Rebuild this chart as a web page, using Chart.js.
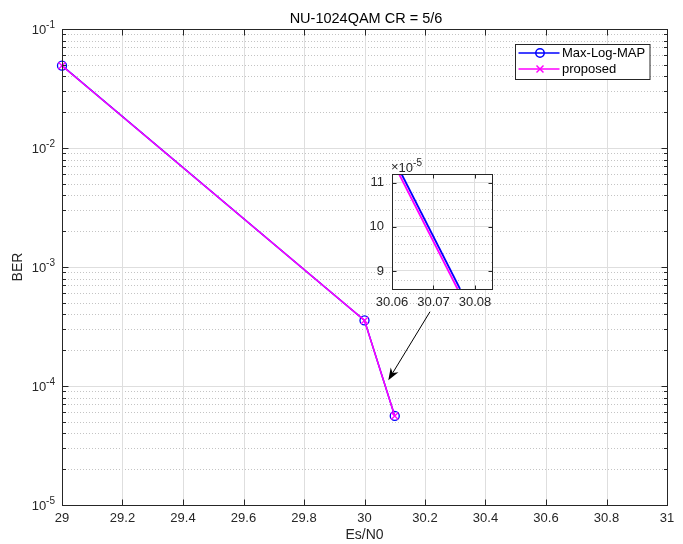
<!DOCTYPE html>
<html>
<head>
<meta charset="utf-8">
<script src="https://cdn.jsdelivr.net/npm/chart.js@4.4.0/dist/chart.umd.min.js"></script>
<style>
  html, body { margin: 0; padding: 0; background: #fff; }
  #wrap { position: relative; width: 683px; height: 544px; }
  #main { position: absolute; left: 0; top: 0; }
  #inset { position: absolute; left: 340px; top: 150px; }
</style>
</head>
<body>
<div id="wrap">
  <canvas id="main" width="683" height="544"></canvas>
  <canvas id="inset" width="180" height="170"></canvas>
</div>
<script>
// main curves
const esn0 = [29, 30, 30.1];
const berMaxLog = [0.0492, 3.56e-4, 5.6e-5];
const berProposed = [0.0491, 3.55e-4, 5.6e-5];
const xTicks = [29, 29.2, 29.4, 29.6, 29.8, 30, 30.2, 30.4, 30.6, 30.8, 31];
const yDecades = [1e-5, 1e-4, 1e-3, 1e-2, 1e-1];
const yExponents = ["-5", "-4", "-3", "-2", "-1"];

// zoomed inset (BER in units of 1e-5)
const zoomEsN0MaxLog = [30.0623, 30.0764];
const zoomBerMaxLog = [11.2, 8.59];
const zoomEsN0Proposed = [30.0617, 30.0758];
const zoomBerProposed = [11.2, 8.59];
const zoomXTicks = [30.06, 30.07, 30.08];
const zoomYTicks = [9, 10, 11];
const zoomYMinor = [8.6, 8.8, 9.2, 9.4, 9.6, 9.8, 10.2, 10.4, 10.6, 10.8, 11.2];

// annotation arrow (data coords of main axes)
const arrowFrom = [30.2165, 4.21e-4];
const arrowTo = [30.0787, 1.12e-4];

const FONT = "'Liberation Sans', Arial, Helvetica, sans-serif";
const INK = "#262626";
const BLUE = "#0000ff";
const MAGENTA = "#ff00ff";

Chart.defaults.font.family = FONT;
Chart.defaults.color = INK;

const seg = (ctx, x1, y1, x2, y2) => {
  ctx.beginPath();
  ctx.moveTo(x1, y1);
  ctx.lineTo(x2, y2);
  ctx.stroke();
};
const crisp = (v) => Math.round(v) + 0.5;

// "10" with raised exponent, left edge at xl
const powText = (ctx, base, exp, xl, yc, big, small) => {
  ctx.textAlign = "left";
  ctx.textBaseline = "middle";
  ctx.font = big + "px " + FONT;
  const wb = ctx.measureText(base).width;
  ctx.fillText(base, xl, yc);
  ctx.font = small + "px " + FONT;
  ctx.fillText(exp, xl + wb, yc - 5);
};
const powWidth = (ctx, base, exp, big, small) => {
  ctx.font = big + "px " + FONT;
  const wb = ctx.measureText(base).width;
  ctx.font = small + "px " + FONT;
  return wb + ctx.measureText(exp).width;
};

const mainPlugin = {
  id: "matlabMain",
  beforeDatasetsDraw(chart) {
    const { ctx, chartArea: a, scales: { x, y } } = chart;
    ctx.save();
    ctx.lineWidth = 1;
    // minor grid (dotted)
    ctx.strokeStyle = "#c4c4c4";
    ctx.setLineDash([1, 2]);
    yDecades.forEach((d, i) => {
      if (i === yDecades.length - 1) return;
      for (let k = 2; k <= 9; k++) {
        const py = crisp(y.getPixelForValue(d * k));
        seg(ctx, a.left, py, a.right, py);
      }
    });
    ctx.setLineDash([]);
    // major grid
    ctx.strokeStyle = "#dedede";
    xTicks.forEach((v) => {
      const px = crisp(x.getPixelForValue(v));
      seg(ctx, px, a.top, px, a.bottom);
    });
    yDecades.forEach((d) => {
      const py = crisp(y.getPixelForValue(d));
      seg(ctx, a.left, py, a.right, py);
    });
    ctx.restore();
  },
  afterDatasetsDraw(chart) {
    const { ctx, chartArea: a, scales: { x, y } } = chart;
    ctx.save();
    ctx.strokeStyle = INK;
    ctx.fillStyle = INK;
    ctx.lineWidth = 1;
    const L = crisp(a.left), R = crisp(a.right), T = crisp(a.top), B = crisp(a.bottom);
    // box
    ctx.strokeRect(L, T, R - L, B - T);
    // x ticks bottom/top
    xTicks.forEach((v) => {
      const px = crisp(x.getPixelForValue(v));
      seg(ctx, px, B, px, B - 6);
      seg(ctx, px, T, px, T + 6);
    });
    // y ticks major + minor, left/right
    yDecades.forEach((d, i) => {
      const py = crisp(y.getPixelForValue(d));
      seg(ctx, L, py, L + 6, py);
      seg(ctx, R, py, R - 6, py);
      if (i < yDecades.length - 1) {
        for (let k = 2; k <= 9; k++) {
          const pm = crisp(y.getPixelForValue(d * k));
          seg(ctx, L, pm, L + 3.5, pm);
          seg(ctx, R, pm, R - 3.5, pm);
        }
      }
    });
    // y tick labels 10^n
    yDecades.forEach((d, i) => {
      const py = y.getPixelForValue(d);
      const w = powWidth(ctx, "10", yExponents[i], 13, 10);
      powText(ctx, "10", yExponents[i], a.left - 7 - w, py + 1, 13, 10);
    });

    // arrow
    const tx = x.getPixelForValue(arrowTo[0]), ty = y.getPixelForValue(arrowTo[1]);
    const fx = x.getPixelForValue(arrowFrom[0]), fy = y.getPixelForValue(arrowFrom[1]);
    const len = Math.hypot(tx - fx, ty - fy);
    const ux = (tx - fx) / len, uy = (ty - fy) / len;
    const nx = -uy, ny = ux;
    const HL = 12, HW = 4.5;
    const bx = tx - ux * HL, by = ty - uy * HL;
    const mx = tx - ux * HL * 0.7, my = ty - uy * HL * 0.7;
    ctx.strokeStyle = "#000";
    ctx.fillStyle = "#000";
    ctx.lineWidth = 1;
    seg(ctx, fx, fy, mx, my);
    ctx.beginPath();
    ctx.moveTo(tx, ty);
    ctx.lineTo(bx + nx * HW, by + ny * HW);
    ctx.lineTo(mx, my);
    ctx.lineTo(bx - nx * HW, by - ny * HW);
    ctx.closePath();
    ctx.fill();

    // legend
    const lx = a.right - 152.5, ly = a.top + 14.5, lw = 134.5, lh = 35;
    ctx.fillStyle = "#fff";
    ctx.fillRect(Math.round(lx), Math.round(ly), lw, lh);
    ctx.strokeStyle = INK;
    ctx.strokeRect(crisp(lx), crisp(ly), lw, lh);
    const rows = [
      { label: chart.data.datasets[0].label, color: BLUE, yy: ly + 9.5, mark: "o" },
      { label: chart.data.datasets[1].label, color: MAGENTA, yy: ly + 25.5, mark: "x" },
    ];
    rows.forEach((r) => {
      ctx.strokeStyle = r.color;
      ctx.lineWidth = 1.5;
      seg(ctx, lx + 4, r.yy, lx + 45, r.yy);
      const cx = lx + 25.5;
      if (r.mark === "o") {
        ctx.beginPath();
        ctx.arc(cx, r.yy, 4.2, 0, Math.PI * 2);
        ctx.stroke();
      } else {
        seg(ctx, cx - 3.5, r.yy - 3.5, cx + 3.5, r.yy + 3.5);
        seg(ctx, cx - 3.5, r.yy + 3.5, cx + 3.5, r.yy - 3.5);
      }
      ctx.fillStyle = "#000";
      ctx.font = "13px " + FONT;
      ctx.textAlign = "left";
      ctx.textBaseline = "middle";
      ctx.fillText(r.label, lx + 47.5, r.yy + 0.5);
    });

    // title
    ctx.fillStyle = "#000";
    ctx.font = "14.5px " + FONT;
    ctx.textAlign = "center";
    ctx.textBaseline = "alphabetic";
    ctx.fillText("NU-1024QAM CR = 5/6", (a.left + a.right) / 2 + 1.5, 23);
    ctx.restore();
  },
};

new Chart(document.getElementById("main"), {
  type: "line",
  data: {
    datasets: [
      {
        label: "Max-Log-MAP",
        data: esn0.map((v, i) => ({ x: v, y: berMaxLog[i] })),
        borderColor: BLUE,
        backgroundColor: "rgba(0,0,0,0)",
        borderWidth: 1.5,
        pointStyle: "circle",
        pointRadius: 4.5,
        pointBorderColor: BLUE,
        pointBackgroundColor: "rgba(0,0,0,0)",
        pointBorderWidth: 1.3,
        tension: 0,
        clip: false,
        order: 1,
      },
      {
        label: "proposed",
        data: esn0.map((v, i) => ({ x: v, y: berProposed[i] })),
        borderColor: MAGENTA,
        backgroundColor: "rgba(0,0,0,0)",
        borderWidth: 1.5,
        pointStyle: "crossRot",
        pointRadius: 5,
        pointBorderColor: MAGENTA,
        pointBorderWidth: 1.3,
        tension: 0,
        clip: false,
        order: 0,
      },
    ],
  },
  options: {
    responsive: false,
    animation: false,
    events: [],
    layout: { padding: { top: 29, right: 16, left: 0, bottom: 0 } },
    plugins: { legend: { display: false }, tooltip: { enabled: false } },
    scales: {
      x: {
        type: "linear",
        min: 29,
        max: 31,
        afterBuildTicks: (s) => { s.ticks = xTicks.map((v) => ({ value: v })); },
        afterFit: (s) => { s.height = 39; },
        ticks: {
          font: { size: 13 },
          color: INK,
          padding: 6,
          maxRotation: 0,
          autoSkip: false,
          callback: (v) => String(Number(v.toFixed(1))),
        },
        grid: { display: false, drawTicks: false },
        border: { display: false },
        title: { display: true, text: "Es/N0", font: { size: 14 }, color: INK, padding: { top: 0, bottom: 0 } },
      },
      y: {
        type: "logarithmic",
        min: 1e-5,
        max: 1e-1,
        afterFit: (s) => { s.width = 62; },
        ticks: { display: false },
        grid: { display: false, drawTicks: false },
        border: { display: false },
        title: { display: true, text: "BER", font: { size: 14 }, color: INK, padding: { top: 10, bottom: 0 } },
      },
    },
  },
  plugins: [mainPlugin],
});

// ---- inset ----
const insetPlugin = {
  id: "matlabInset",
  beforeDraw(chart) {
    const { ctx, chartArea: a } = chart;
    ctx.save();
    ctx.fillStyle = "#fff";
    ctx.fillRect(a.left, a.top, a.right - a.left, a.bottom - a.top);
    ctx.restore();
  },
  beforeDatasetsDraw(chart) {
    const { ctx, chartArea: a, scales: { y } } = chart;
    ctx.save();
    ctx.strokeStyle = "#c4c4c4";
    ctx.lineWidth = 1;
    ctx.setLineDash([1, 2]);
    zoomYMinor.forEach((v) => {
      const py = crisp(y.getPixelForValue(v));
      if (py > a.top + 1 && py < a.bottom - 1) seg(ctx, a.left, py, a.right, py);
    });
    ctx.restore();
  },
  afterDatasetsDraw(chart) {
    const { ctx, chartArea: a, scales: { x, y } } = chart;
    ctx.save();
    ctx.strokeStyle = INK;
    ctx.fillStyle = INK;
    ctx.lineWidth = 1;
    const L = crisp(a.left), R = crisp(a.right), T = crisp(a.top), B = crisp(a.bottom);
    ctx.strokeRect(L, T, R - L, B - T);
    zoomXTicks.forEach((v) => {
      const px = crisp(x.getPixelForValue(v));
      seg(ctx, px, B, px, B - 4);
      seg(ctx, px, T, px, T + 4);
    });
    zoomYTicks.forEach((v) => {
      const py = crisp(y.getPixelForValue(v));
      seg(ctx, L, py, L + 4, py);
      seg(ctx, R, py, R - 4, py);
    });
    // exponent label above the axes
    ctx.font = "13px " + FONT;
    ctx.textAlign = "left";
    ctx.textBaseline = "middle";
    const wx = ctx.measureText("\u00d7").width;
    ctx.fillText("\u00d7", a.left - 1, a.top - 7);
    powText(ctx, "10", "-5", a.left - 1 + wx, a.top - 6, 13, 10);
    ctx.restore();
  },
};

new Chart(document.getElementById("inset"), {
  type: "line",
  data: {
    datasets: [
      {
        label: "Max-Log-MAP",
        data: zoomEsN0MaxLog.map((v, i) => ({ x: v, y: zoomBerMaxLog[i] })),
        borderColor: BLUE,
        borderWidth: 1.8,
        pointRadius: 0,
        tension: 0,
        order: 1,
      },
      {
        label: "proposed",
        data: zoomEsN0Proposed.map((v, i) => ({ x: v, y: zoomBerProposed[i] })),
        borderColor: MAGENTA,
        borderWidth: 1.8,
        pointRadius: 0,
        tension: 0,
        order: 0,
      },
    ],
  },
  options: {
    responsive: false,
    animation: false,
    events: [],
    layout: { padding: { top: 24, right: 28, left: 0, bottom: 0 } },
    plugins: { legend: { display: false }, tooltip: { enabled: false } },
    scales: {
      x: {
        type: "linear",
        min: 30.06,
        max: 30.0841,
        afterBuildTicks: (s) => { s.ticks = zoomXTicks.map((v) => ({ value: v })); },
        afterFit: (s) => { s.height = 31; },
        ticks: {
          font: { size: 13 },
          color: INK,
          padding: 6,
          maxRotation: 0,
          autoSkip: false,
          callback: (v) => v.toFixed(2),
        },
        grid: { color: "#dedede", drawTicks: false },
        border: { display: false },
      },
      y: {
        type: "linear",
        min: 8.59,
        max: 11.2,
        afterBuildTicks: (s) => { s.ticks = zoomYTicks.map((v) => ({ value: v })); },
        afterFit: (s) => { s.width = 52; },
        ticks: { font: { size: 13 }, color: INK, padding: 8, callback: (v) => String(v) },
        grid: { color: "#dedede", drawTicks: false },
        border: { display: false },
      },
    },
  },
  plugins: [insetPlugin],
});
</script>
</body>
</html>
